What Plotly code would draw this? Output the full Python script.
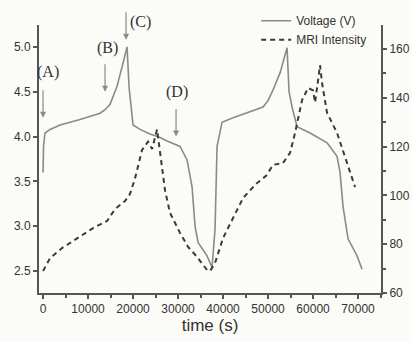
import plotly.graph_objects as go

# Voltage curve (time s, V)
volt_t = [0, 111, 444, 1556, 3778, 8222, 12667, 13778, 14889, 16444, 17778, 18667, 19111, 20000,
          21556, 23778, 26000, 27556, 30444, 32000, 33111, 33778, 34444, 36444, 37556,
          38222, 38667, 39778, 42222, 46000, 48889, 50000, 51111, 52667, 54222, 54667, 55333,
          56444, 59333, 63111, 65333, 66000, 66667, 67778, 69778, 70889]
volt_v = [3.6, 3.9, 4.04, 4.08, 4.13, 4.19, 4.26, 4.30, 4.36, 4.56, 4.82, 5.0, 4.55, 4.13,
          4.08, 4.03, 3.99, 3.95, 3.89, 3.74, 3.44, 3.0, 2.82, 2.67, 2.54,
          2.97, 3.89, 4.16, 4.21, 4.28, 4.33, 4.40, 4.52, 4.71, 4.99, 4.5, 4.33,
          4.11, 4.04, 3.93, 3.78, 3.6, 3.22, 2.86, 2.67, 2.52]

# MRI intensity curve (time s, a.u.)
mri_t = [0, 1556, 4222, 7556, 11111, 14222, 16000, 18222, 19333, 20444, 22000, 23333,
         24222, 25333, 26222, 27111, 28222, 30444, 32222, 34222, 36444, 37111, 38222,
         40000, 42222, 44444, 47333, 49556, 51111, 53333, 54889, 56000, 57556, 58889,
         60000, 60444, 61111, 61556, 62000, 63111, 65333, 67111, 69333]
mri_i = [69, 74.3, 78.4, 82.5, 86.6, 89.5, 94.4, 97.7, 100.6, 107, 118.6, 122,
         119, 127, 114, 102, 92.8, 84.6, 78.9, 74.8, 69.4, 69, 72.3,
         82.5, 90.7, 98.9, 104.7, 108, 112.5, 113.3, 117.4, 125.6, 139, 144,
         143, 138, 147, 153.4, 146, 133.8, 125.6, 115.7, 103.4]

# Marker annotations: label, arrow tip (t, V), label position (t, paper-y)
mark_labels = ["(A)", "(B)", "(C)", "(D)"]
mark_tip_t = [0, 13778, 18444, 29556]
mark_tip_v = [4.21, 4.5, 5.08, 4.0]
mark_lab_t = [1111, 14222, 21556, 29778]
mark_lab_y = [0.825, 0.914, 1.011, 0.75]

fig = go.Figure()
fig.add_trace(go.Scatter(x=volt_t, y=volt_v, mode="lines", name="Voltage (V)",
                         line=dict(color="#8a8a8a", width=1.6)))
fig.add_trace(go.Scatter(x=mri_t, y=mri_i, mode="lines", name="MRI Intensity",
                         yaxis="y2", line=dict(color="#3a3a3a", width=2, dash="5px,4px")))

anns = []
for lab, tt, tv, lt, ly in zip(mark_labels, mark_tip_t, mark_tip_v, mark_lab_t, mark_lab_y):
    anns.append(dict(x=tt, y=tv, xref="x", yref="y", text="", showarrow=True,
                     ax=0, ay=-29, arrowhead=2, arrowsize=1, arrowwidth=1.2,
                     arrowcolor="#8a8a8a"))
    anns.append(dict(x=lt, y=ly, xref="x", yref="paper", text=lab, showarrow=False,
                     xanchor="center", yanchor="middle",
                     font=dict(family="Liberation Serif", size=16, color="#333")))

tickfont = dict(family="Liberation Sans Narrow, Liberation Sans", size=12, color="#333")
axis_common = dict(showgrid=False, zeroline=False, showline=True, linecolor="#555",
                   linewidth=2, ticks="outside", ticklen=4, tickwidth=1.5, tickcolor="#555",
                   tickfont=tickfont)

fig.update_layout(
    width=412, height=342,
    margin=dict(l=39, r=31, t=25, b=49, autoexpand=False),
    paper_bgcolor="#fbfbf7", plot_bgcolor="#fbfbf7",
    showlegend=True,
    legend=dict(x=0.635, y=1.07, xanchor="left", yanchor="top", bgcolor="rgba(0,0,0,0)",
                font=dict(family="Liberation Sans Narrow, Liberation Sans", size=12, color="#333"),
                tracegroupgap=0, itemwidth=30),
    xaxis=dict(range=[-900, 75100], dtick=10000, tick0=0, tickformat="d",
               minor=dict(dtick=5000, ticks="outside", ticklen=3, tickcolor="#555"),
               title=dict(text="time (s)", font=dict(family="Liberation Sans", size=17, color="#333"),
                          standoff=4),
               **axis_common),
    yaxis=dict(range=[2.256, 5.244], tickvals=[2.5, 3.0, 3.5, 4.0, 4.5, 5.0],
               tickformat=".1f", **axis_common),
    yaxis2=dict(range=[60, 169.8], dtick=20, tick0=60, overlaying="y", side="right",
                minor=dict(dtick=10, ticks="outside", ticklen=3, tickcolor="#555"),
                **axis_common),
    annotations=anns,
)

fig.write_html("out.html", config={"displayModeBar": False},
               post_script="document.body.style.margin='0px';document.body.style.overflow='hidden';")
